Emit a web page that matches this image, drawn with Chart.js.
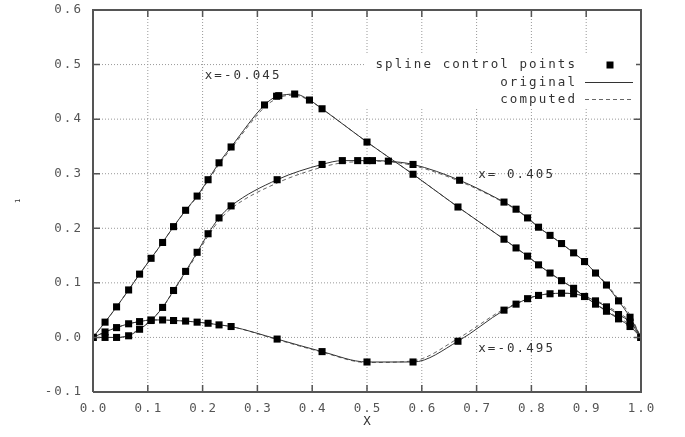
<!DOCTYPE html>
<html>
<head>
<meta charset="utf-8">
<script src="https://cdn.jsdelivr.net/npm/chart.js@4.4.1/dist/chart.umd.min.js"></script>
<style>
  html, body { margin: 0; padding: 0; background: #fff; }
  #c { display: block; }
</style>
</head>
<body>
<canvas id="c" width="685" height="437"></canvas>
<script>
// tick labels
const X_TICKS = ['0.0','0.1','0.2','0.3','0.4','0.5','0.6','0.7','0.8','0.9','1.0'];
const Y_TICKS = ['-0.1','0.0','0.1','0.2','0.3','0.4','0.5','0.6'];

// x = -0.045 section
const A_X    = [0, 0.022, 0.043, 0.065, 0.085, 0.106, 0.127, 0.147, 0.169, 0.19, 0.21, 0.23, 0.252, 0.313, 0.335, 0.339, 0.368, 0.395, 0.418, 0.5, 0.584, 0.666, 0.75, 0.772, 0.793, 0.813, 0.834, 0.855, 0.877, 0.897, 0.917, 0.937, 0.959, 0.98, 1.0];
const A_ORIG = [0, 0.028, 0.056, 0.087, 0.116, 0.145, 0.174, 0.203, 0.233, 0.259, 0.289, 0.32, 0.349, 0.426, 0.442, 0.443, 0.446, 0.435, 0.419, 0.358, 0.299, 0.239, 0.18, 0.164, 0.149, 0.133, 0.118, 0.104, 0.09, 0.075, 0.061, 0.048, 0.034, 0.02, 0.0];
const A_COMP = [0, 0.028, 0.056, 0.087, 0.116, 0.145, 0.174, 0.203, 0.232, 0.258, 0.287, 0.317, 0.346, 0.422, 0.438, 0.440, 0.444, 0.434, 0.419, 0.358, 0.299, 0.239, 0.18, 0.164, 0.149, 0.133, 0.118, 0.104, 0.09, 0.075, 0.062, 0.049, 0.036, 0.023, 0.0];

// x = 0.405 section
const B_X    = [0, 0.022, 0.043, 0.065, 0.085, 0.106, 0.127, 0.147, 0.169, 0.19, 0.21, 0.23, 0.252, 0.336, 0.418, 0.455, 0.483, 0.5, 0.51, 0.539, 0.584, 0.669, 0.75, 0.772, 0.793, 0.813, 0.834, 0.855, 0.877, 0.897, 0.917, 0.937, 0.959, 0.98, 1.0];
const B_ORIG = [0, 0.0, 0.0, 0.003, 0.015, 0.031, 0.055, 0.086, 0.121, 0.156, 0.19, 0.219, 0.241, 0.289, 0.317, 0.324, 0.324, 0.324, 0.324, 0.323, 0.317, 0.288, 0.248, 0.235, 0.219, 0.202, 0.187, 0.172, 0.155, 0.139, 0.118, 0.096, 0.067, 0.037, 0.0];
const B_COMP = [0, 0.0, 0.0, 0.004, 0.016, 0.032, 0.055, 0.085, 0.119, 0.153, 0.186, 0.214, 0.236, 0.283, 0.312, 0.320, 0.322, 0.323, 0.323, 0.322, 0.315, 0.286, 0.247, 0.234, 0.219, 0.202, 0.187, 0.172, 0.155, 0.139, 0.119, 0.098, 0.070, 0.041, 0.0];

// x = -0.495 section
const C_X    = [0, 0.022, 0.043, 0.065, 0.085, 0.106, 0.127, 0.147, 0.169, 0.19, 0.21, 0.23, 0.252, 0.336, 0.418, 0.5, 0.584, 0.666, 0.75, 0.772, 0.793, 0.813, 0.834, 0.855, 0.877, 0.897, 0.917, 0.937, 0.959, 0.98, 1.0];
const C_ORIG = [0, 0.010, 0.018, 0.025, 0.029, 0.032, 0.032, 0.031, 0.030, 0.028, 0.026, 0.023, 0.020, -0.003, -0.026, -0.045, -0.045, -0.007, 0.050, 0.061, 0.071, 0.077, 0.080, 0.081, 0.080, 0.075, 0.067, 0.056, 0.042, 0.028, 0.0];
const C_COMP = [0, 0.010, 0.018, 0.025, 0.029, 0.032, 0.032, 0.031, 0.030, 0.028, 0.026, 0.023, 0.020, -0.004, -0.027, -0.046, -0.043, -0.002, 0.052, 0.062, 0.071, 0.077, 0.080, 0.081, 0.080, 0.076, 0.068, 0.058, 0.045, 0.030, 0.0];

const CURVE_LABELS = [
  { txt: 'x=-0.045', x: 0.202, y: 0.48 },
  { txt: 'x= 0.405', x: 0.701, y: 0.298 },
  { txt: 'x=-0.495', x: 0.701, y: -0.021 },
];

const X_MIN = 0, X_MAX = 1, Y_MIN = -0.1, Y_MAX = 0.6;
const TICK_LEN = 0.0128;   // inward tick length, in axis units (~7px)

const FONT = '12.5px "DejaVu Sans Mono", "Liberation Mono", monospace';
const PITCH = 9.6; // wide character cell, like the gnuplot terminal

const pts = (xs, ys) => xs.map((x, i) => ({ x, y: ys[i] }));
const xv = X_TICKS.map(parseFloat);
const yv = Y_TICKS.map(parseFloat);

function markers(xs, ys) {
  return {
    data: pts(xs, ys), showLine: false, order: 0,
    pointStyle: 'rect', pointRadius: 5, pointHoverRadius: 5,
    backgroundColor: '#000', borderColor: '#000', borderWidth: 0,
  };
}
function line(xs, ys, dashed) {
  return {
    data: pts(xs, ys), showLine: true, order: dashed ? 2 : 1,
    pointRadius: 0, borderWidth: 1,
    borderColor: dashed ? '#666' : '#333',
    borderDash: dashed ? [4, 3] : [],
    cubicInterpolationMode: 'monotone',
  };
}
// straight segments separated by gaps (null y)
function segs(list, opts) {
  const data = [];
  list.forEach(([a, b]) => { data.push(a, b, { x: a.x, y: null }); });
  return Object.assign({
    data, showLine: true, spanGaps: false, pointRadius: 0, tension: 0, clip: false,
  }, opts);
}

// dotted grid at the inner ticks
const gridSet = segs([
  ...xv.slice(1, -1).map(v => [{ x: v, y: Y_MIN }, { x: v, y: Y_MAX }]),
  ...yv.slice(1, -1).map(v => [{ x: X_MIN, y: v }, { x: X_MAX, y: v }]),
], { borderColor: '#999', borderWidth: 1, borderDash: [1, 2], order: 10 });

// inward tick marks on all four sides
const tickSet = segs([
  ...xv.map(v => [{ x: v, y: Y_MIN }, { x: v, y: Y_MIN + TICK_LEN }]),
  ...xv.map(v => [{ x: v, y: Y_MAX }, { x: v, y: Y_MAX - TICK_LEN }]),
  ...yv.map(v => [{ x: X_MIN, y: v }, { x: X_MIN + TICK_LEN, y: v }]),
  ...yv.map(v => [{ x: X_MAX, y: v }, { x: X_MAX - TICK_LEN, y: v }]),
], { borderColor: '#555', borderWidth: 1.5, order: -1 });

// plot frame
const frameSet = {
  data: [{ x: X_MIN, y: Y_MIN }, { x: X_MAX, y: Y_MIN }, { x: X_MAX, y: Y_MAX }, { x: X_MIN, y: Y_MAX }, { x: X_MIN, y: Y_MIN }],
  showLine: true, pointRadius: 0, tension: 0, clip: false,
  borderColor: '#555', borderWidth: 2, order: -2,
};

// draws text one cell at a time; align: 'left' | 'center' | 'right'
function monoText(ctx, txt, x, y, align) {
  const w = txt.length * PITCH;
  let x0 = align === 'right' ? x - w : align === 'center' ? x - w / 2 : x;
  ctx.textAlign = 'center';
  for (const ch of txt) {
    ctx.fillText(ch, x0 + PITCH / 2, y);
    x0 += PITCH;
  }
}

const textPlugin = {
  id: 'texts',
  afterDraw(c) {
    const { ctx, chartArea: a, scales: { x, y } } = c;
    ctx.save();

    // tick labels
    ctx.font = FONT;
    ctx.fillStyle = '#555';
    ctx.textBaseline = 'middle';
    X_TICKS.forEach((t, i) => monoText(ctx, t, x.getPixelForValue(xv[i]), a.bottom + 17, 'center'));
    Y_TICKS.forEach((t, i) => monoText(ctx, t, a.left - 11, y.getPixelForValue(yv[i]), 'right'));

    // legend
    ctx.fillStyle = '#fff';
    ctx.fillRect(364, 53, 272, 54);
    ctx.fillStyle = '#333';
    monoText(ctx, 'spline control points', 576, 65, 'right');
    monoText(ctx, 'original', 576, 82.5, 'right');
    monoText(ctx, 'computed', 576, 99.5, 'right');
    ctx.fillStyle = '#000';
    ctx.fillRect(606.5, 61.5, 7, 7);
    ctx.fillStyle = '#333';
    ctx.fillRect(585, 82, 48, 1);
    ctx.fillStyle = '#666';
    for (let xx = 585; xx < 633; xx += 7) ctx.fillRect(xx, 99, 4, 1);

    // curve labels
    ctx.fillStyle = '#333';
    CURVE_LABELS.forEach(l => {
      monoText(ctx, l.txt, x.getPixelForValue(l.x), y.getPixelForValue(l.y), 'left');
    });

    // axis titles
    monoText(ctx, 'X', (a.left + a.right) / 2, 422, 'center');
    ctx.translate(18, 201);
    ctx.rotate(-Math.PI / 2);
    ctx.font = '7px "DejaVu Sans Mono"';
    ctx.textAlign = 'center';
    ctx.fillText('1', 0, 0);
    ctx.restore();
  },
};

new Chart(document.getElementById('c'), {
  type: 'scatter',
  data: {
    datasets: [
      markers(A_X, A_ORIG), markers(B_X, B_ORIG), markers(C_X, C_ORIG),
      line(A_X, A_ORIG, false), line(B_X, B_ORIG, false), line(C_X, C_ORIG, false),
      line(A_X, A_COMP, true), line(B_X, B_COMP, true), line(C_X, C_COMP, true),
      gridSet, tickSet, frameSet,
    ],
  },
  options: {
    responsive: false,
    animation: false,
    events: [],
    layout: { padding: { left: 0, top: 10, right: 44, bottom: 0 } },
    plugins: { legend: { display: false }, tooltip: { enabled: false } },
    scales: {
      x: {
        type: 'linear', min: X_MIN, max: X_MAX,
        afterFit: s => { s.height = 45; },
        ticks: { stepSize: 0.1, display: false },
        grid: { display: false },
        border: { display: false },
      },
      y: {
        type: 'linear', min: Y_MIN, max: Y_MAX,
        afterFit: s => { s.width = 93; },
        ticks: { stepSize: 0.1, display: false },
        grid: { display: false },
        border: { display: false },
      },
    },
  },
  plugins: [textPlugin],
});
</script>
</body>
</html>
